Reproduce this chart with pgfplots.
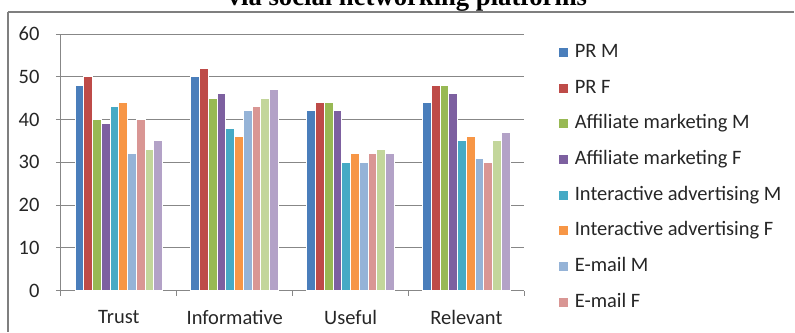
\documentclass[border=0pt]{standalone}
\usepackage{pgfplots}
\pgfplotsset{compat=1.18}
\usepackage{pgfplotstable}
\usepackage{fontspec}
\setmainfont{Carlito}
\newfontfamily\titlefont{Liberation Serif}
\definecolor{c1}{HTML}{4A7EBB}
\definecolor{c2}{HTML}{BE4B48}
\definecolor{c3}{HTML}{98B954}
\definecolor{c4}{HTML}{7D60A0}
\definecolor{c5}{HTML}{46AAC5}
\definecolor{c6}{HTML}{F79646}
\definecolor{c7}{HTML}{95B3D7}
\definecolor{c8}{HTML}{D99694}
\definecolor{c9}{HTML}{C3D69B}
\definecolor{c10}{HTML}{B3A2C7}
\definecolor{gridgray}{HTML}{878787}
\definecolor{framegray}{HTML}{7F7F7F}
\pgfplotstableread{
x s1 s2 s3 s4 s5 s6 s7 s8 s9 s10
0 48 50 40 39 43 44 32 40 33 35
1 50 52 45 46 38 36 42 43 45 47
2 42 44 44 42 30 32 30 32 33 32
3 44 48 48 46 35 36 31 30 35 37
}\data
\begin{document}
\begin{tikzpicture}
\begin{axis}[
  width=464bp, height=257bp, scale only axis, clip=false,
  ybar=0pt, bar width=8.77bp,
  legend image code/.code={\fill[#1, draw=none] (0bp,-4.5bp) rectangle (8.5bp,4.5bp);},
  ymin=0, ymax=60, xmin=-0.5, xmax=3.5,
  ytick={0,10,...,60},
  ymajorgrids, grid style={color=gridgray, line width=0.9bp},
  axis x line*=bottom, axis y line*=left,
  axis line style={-, color=gridgray, line width=0.9bp},
  tick align=outside, major tick length=5bp,
  tick style={color=gridgray, line width=0.9bp},
  xtick={-0.5,0.5,1.5,2.5,3.5}, xticklabels={},
  extra x ticks={0,1,2,3},
  extra x tick labels={Trust,Informative,Useful,Relevant},
  extra x tick style={tick style={draw=none}, xticklabel style={yshift=-11bp}},
  yticklabel style={xshift=-13bp},
  ticklabel style={font=\fontsize{20.5bp}{24bp}\selectfont, text=black!85},
  /pgf/number format/assume math mode=true,
  every axis plot/.append style={draw=white, line width=1bp},
  legend cell align=left,
  legend style={at={(axis description cs:1.0755,0.9626)}, anchor=north west,
    draw=none, fill=none, inner sep=0pt, outer sep=0pt,
    row sep=17.7bp, column sep=7bp,
    font=\fontsize{20.5bp}{24bp}\selectfont, text=black!85,
    nodes={inner sep=0pt, text height=14bp, text depth=4bp}},
]
\addplot[fill=c1] table[x=x,y=s1]{\data};
\addplot[fill=c2] table[x=x,y=s2]{\data};
\addplot[fill=c3] table[x=x,y=s3]{\data};
\addplot[fill=c4] table[x=x,y=s4]{\data};
\addplot[fill=c5] table[x=x,y=s5]{\data};
\addplot[fill=c6] table[x=x,y=s6]{\data};
\addplot[fill=c7] table[x=x,y=s7]{\data};
\addplot[fill=c8] table[x=x,y=s8]{\data};
\addplot[fill=c9] table[x=x,y=s9]{\data};
\addplot[fill=c10] table[x=x,y=s10]{\data};
\legend{PR M, PR F, Affiliate marketing M, Affiliate marketing F, Interactive advertising M, Interactive advertising F, E-mail M, E-mail F}
\path (axis description cs:-0.13147,-0.15953) rectangle (axis description cs:1.58190,1.13230);
\draw[color=framegray, line width=2bp] (axis description cs:-0.11422,-0.15953) -- (axis description cs:-0.11422,1.0856);
\draw[color=framegray, line width=2bp] (axis description cs:-0.11422,1.0856) -- (axis description cs:1.5819,1.0856);
\node[overlay, anchor=base, inner sep=0pt, font=\titlefont\bfseries\fontsize{26.7bp}{30bp}\selectfont] at (axis description cs:0.74784,1.11089) {via social networking platforms};
\end{axis}
\end{tikzpicture}
\end{document}
